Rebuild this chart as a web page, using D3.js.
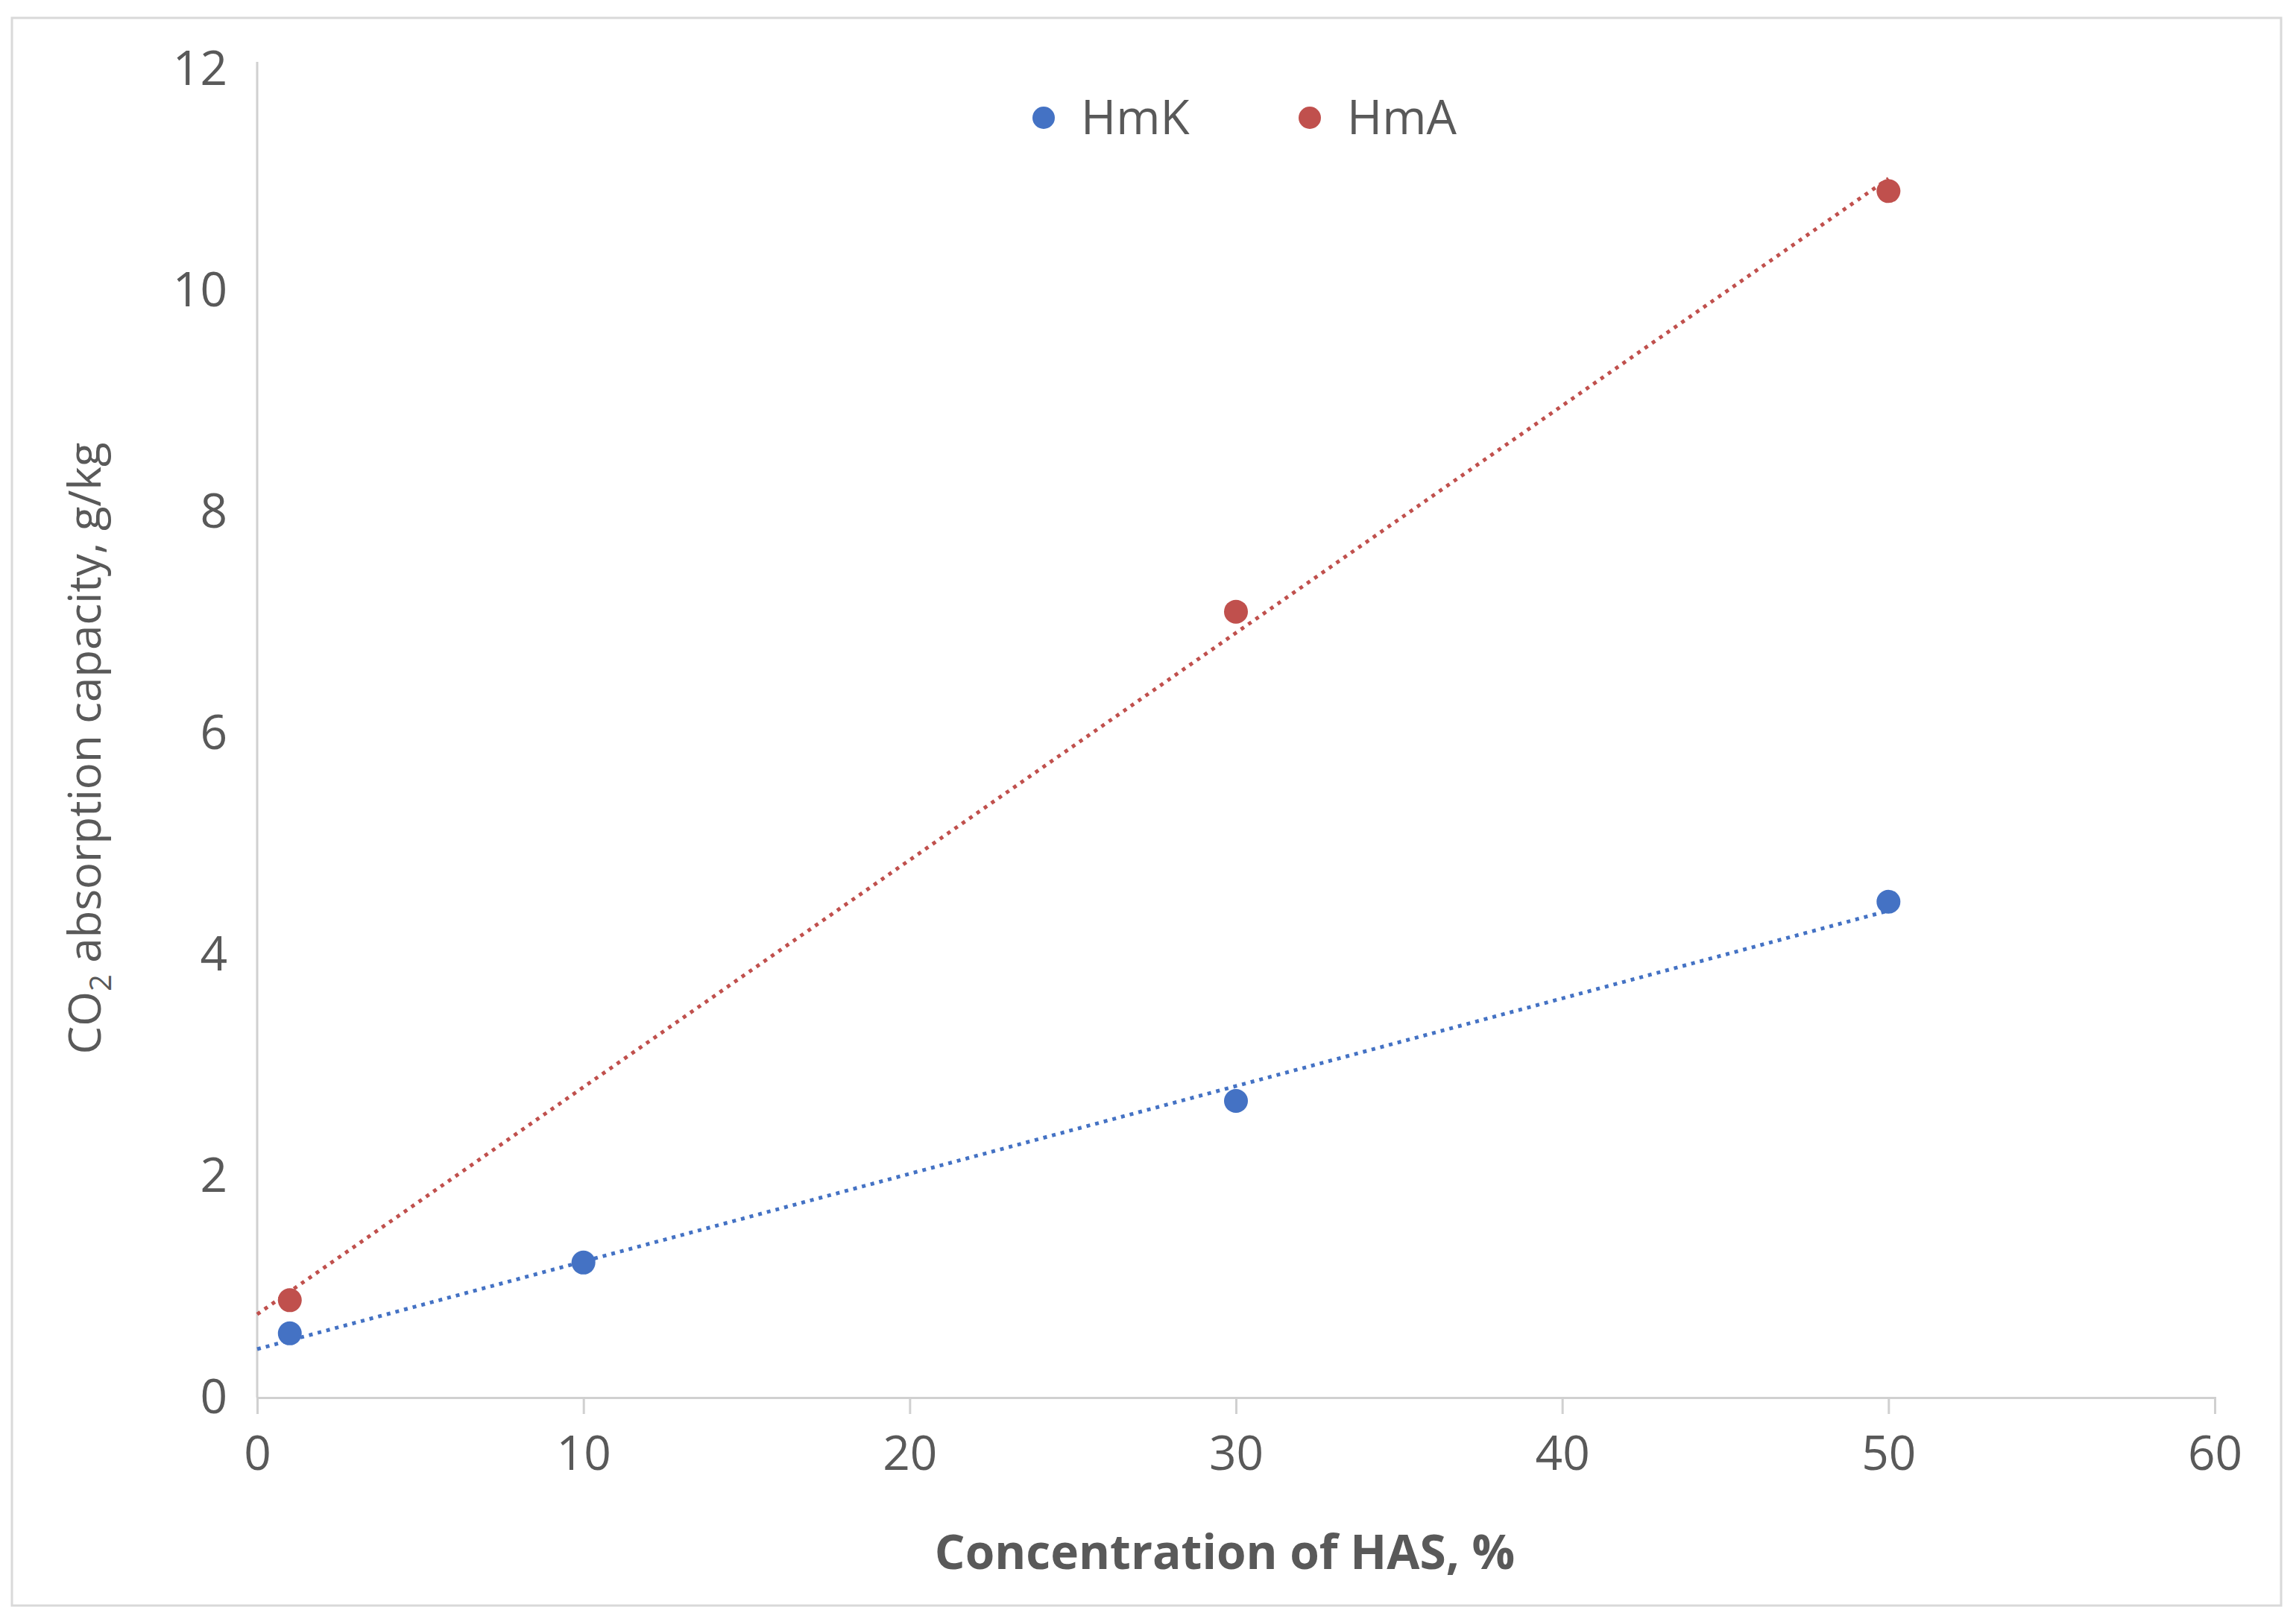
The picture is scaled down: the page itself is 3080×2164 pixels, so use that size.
<!DOCTYPE html>
<html>
<head>
<meta charset="utf-8">
<script src="https://cdn.jsdelivr.net/npm/d3@7"></script>
<style>
  body { margin: 0; background: #fff; }
  text { font-family: "Open Sans", "Noto Sans", sans-serif; fill: #595959; }
</style>
</head>
<body>
<svg id="chart"></svg>
<script>
const xTicks = [0, 10, 20, 30, 40, 50, 60]
const yTicks = [0, 2, 4, 6, 8, 10, 12]
const hmkX = [1, 10, 30, 50]
const hmkY = [0.58, 1.22, 2.68, 4.48]
const hmaX = [1, 30, 50]
const hmaY = [0.88, 7.1, 10.9]
const seriesNames = ["HmK", "HmA"]
const colors = ["#4472C4", "#C0504D"]

var width = 3080, height = 2164
var padLeft = 345, padRight = 2971, padTop = 93, padBottom = 1875

var svg = d3.select("#chart").attr("width", width).attr("height", height)

svg.append("rect")
    .attr("x", 16).attr("y", 24).attr("width", 3044).attr("height", 2130)
    .attr("fill", "none").attr("stroke", "#d9d9d9").attr("stroke-width", 3)

var x = d3.scaleLinear().domain([0, 60]).range([padLeft, padRight])
var y = d3.scaleLinear().domain([0, 12]).range([padBottom, padTop])

var xAxis = d3.axisBottom(x).tickValues(xTicks).tickSize(22).tickPadding(30)
var yAxis = d3.axisLeft(y).tickValues(yTicks).tickSize(0).tickPadding(40)

var gx = svg.append("g").attr("transform", "translate(0," + padBottom + ")").call(xAxis)
var gy = svg.append("g").attr("transform", "translate(" + padLeft + ",0)").call(yAxis)
;[gx, gy].forEach(function(g){
    g.select(".domain").attr("stroke", "#d0d0d0").attr("stroke-width", 3)
    g.selectAll(".tick line").attr("stroke", "#d0d0d0").attr("stroke-width", 3)
    g.selectAll(".tick text").style("font-size", "64px").attr("fill", "#595959")
})
gy.select(".domain").attr("d", "M0," + (padTop - 10) + "V" + padBottom)

// linear trendline from least squares
function fit(xs, ys){
    var mx = d3.mean(xs), my = d3.mean(ys)
    var b = d3.sum(xs, function(v, i){ return (v - mx) * (ys[i] - my) }) /
            d3.sum(xs, function(v){ return (v - mx) * (v - mx) })
    return { a: my - b * mx, b: b }
}

var data = [[hmkX, hmkY], [hmaX, hmaY]]
var line = d3.line().x(function(d){ return x(d[0]) }).y(function(d){ return y(d[1]) })

data.forEach(function(s, k){
    var f = fit(s[0], s[1])
    svg.append("path")
        .attr("d", line([[0, f.a], [50, f.a + 50 * f.b]]))
        .attr("fill", "none").attr("stroke", colors[k])
        .attr("stroke-width", 5).attr("stroke-dasharray", "5,7")
    svg.selectAll(null).data(s[0]).enter().append("circle")
        .attr("cx", function(d){ return x(d) })
        .attr("cy", function(d, i){ return y(s[1][i]) })
        .attr("r", 16).attr("fill", colors[k])
})

// legend
var legX = [1400, 1757]
seriesNames.forEach(function(n, k){
    svg.append("circle").attr("cx", legX[k]).attr("cy", 158).attr("r", 15).attr("fill", colors[k])
    svg.append("text").attr("x", legX[k] + 50).attr("y", 158).attr("dy", "0.35em")
        .style("font-size", "64px").text(n)
})

svg.append("text")
    .attr("x", (padLeft + padRight) / 2 - 15).attr("y", 2105)
    .attr("text-anchor", "middle").style("font-size", "64px").style("font-weight", "bold")
    .text("Concentration of HAS, %")

var yt = svg.append("text")
    .attr("transform", "translate(135," + ((padTop + padBottom) / 2 + 20) + ") rotate(-90)")
    .attr("text-anchor", "middle").style("font-size", "60px")
yt.append("tspan").text("CO")
yt.append("tspan").attr("dy", 14).style("font-size", "40px").text("2")
yt.append("tspan").attr("dy", -14).text(" absorption capacity, g/kg")
</script>
</body>
</html>
